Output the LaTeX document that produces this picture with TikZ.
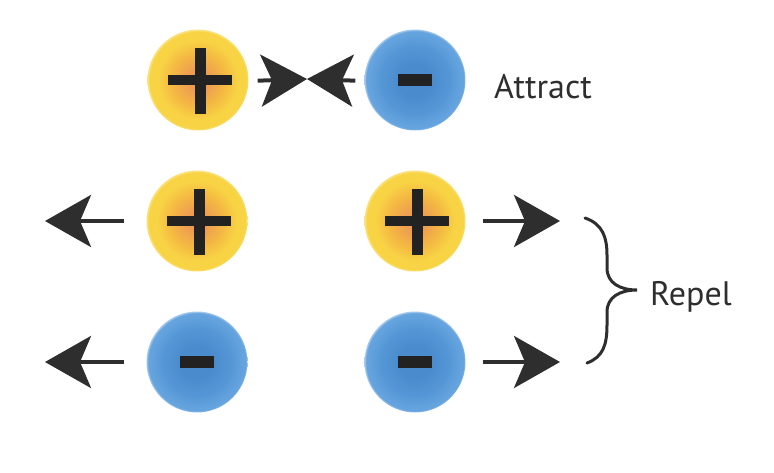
\documentclass[tikz,border=0pt]{standalone}
\usepackage{fontspec}
\setmainfont{PT Sans}
\usetikzlibrary{arrows.meta}
\definecolor{ink}{HTML}{2E2E2E}
\definecolor{signc}{HTML}{222222}
\definecolor{posc}{HTML}{EE9C52}
\definecolor{posm}{HTML}{F4B842}
\definecolor{pose}{HTML}{F8D445}
\definecolor{posf}{HTML}{FAE48A}
\definecolor{negc}{HTML}{4A8BCD}
\definecolor{negm}{HTML}{5597D6}
\definecolor{nege}{HTML}{64A3DE}
\definecolor{negf}{HTML}{A9CCEE}
\pgfdeclareradialshading{posball}{\pgfpoint{0bp}{0bp}}{color(0bp)=(posc); color(5bp)=(posc); color(13bp)=(posm); color(20bp)=(pose); color(24bp)=(pose); color(25bp)=(posf); color(50bp)=(white)}
\pgfdeclareradialshading{negball}{\pgfpoint{0bp}{0bp}}{color(0bp)=(negc); color(8bp)=(negc); color(17bp)=(negm); color(23bp)=(nege); color(24.2bp)=(nege); color(25bp)=(negf); color(50bp)=(white)}
\tikzset{
  ball/.style={circle, minimum size=101pt, inner sep=0pt},
  posnode/.style={ball, shade, shading=posball},
  negnode/.style={ball, shade, shading=negball},
  signfill/.style={fill=signc},
  arr/.style={draw=ink, line width=4pt, -{Stealth[length=46pt, width=52pt, inset=11pt]}},
  bracestyle/.style={draw=ink, line width=3pt, line cap=round},
  lbl/.style={font=\fontsize{34}{40}\selectfont, text=ink, inner sep=0pt}
}
\newcommand{\plussign}[1]{%
  \fill[signfill] ([shift={(-30,-5)}]#1) rectangle ++(64,10);
  \fill[signfill] ([shift={(-3.5,-32)}]#1) rectangle ++(11,66);}
\newcommand{\minussign}[1]{%
  \fill[signfill] ([shift={(-17,-6)}]#1) rectangle ++(34,12);}
\begin{document}
\begin{tikzpicture}[x=1pt,y=-1pt]
\useasboundingbox (0,0) rectangle (774,472);
% nodes
\node[posnode] (pA) at (198,80) {};
\node[negnode] (nA) at (415,80) {};
\node[posnode] (pL) at (197,221) {};
\node[posnode] (pR) at (415,221) {};
\node[negnode] (nL) at (197,362) {};
\node[negnode] (nR) at (415,362) {};
\plussign{pA.center}
\minussign{nA.center}
\plussign{pL.center}
\plussign{pR.center}
\minussign{nL.center}
\minussign{nR.center}
% arrow tips
\coordinate (m) at (307,79);
\coordinate (tL2) at (45,221);
\coordinate (tR2) at (560,221);
\coordinate (tL3) at (45,362);
\coordinate (tR3) at (560,362);
\draw[arr, shorten <=9pt] ([yshift=-1pt]pA.east) -- (m);
\draw[arr, shorten <=9pt] ([yshift=-1pt]nA.west) -- (m);
\draw[arr, shorten <=22pt] (pL.west) -- (tL2);
\draw[arr, shorten <=17pt] (pR.east) -- (tR2);
\draw[arr, shorten <=22pt] (nL.west) -- (tL3);
\draw[arr, shorten <=17pt] (nR.east) -- (tR3);
% brace
\coordinate (bt) at (585,218);
\coordinate (btip) at (637,290);
\coordinate (bb) at (587,363);
\draw[bracestyle] (bt) .. controls (603,224) and (607,238) .. (607,255) -- (607,268)
  .. controls (607,283) and (620,290) .. (btip)
  .. controls (620,290) and (607,297) .. (607,312) -- (607,325)
  .. controls (607,345) and (603,357) .. (bb);
% labels
\node[lbl, anchor=base west] (att) at (494,98) {Attract};
\node[lbl, anchor=base west] (rep) at (650,305) {Repel};
\end{tikzpicture}
\end{document}
